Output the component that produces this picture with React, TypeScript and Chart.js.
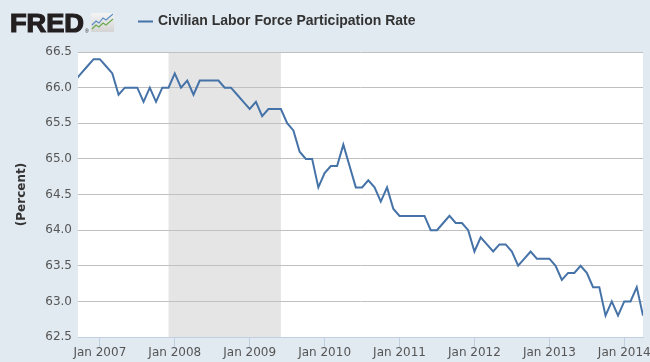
import React, { useEffect, useRef } from "react";
import { Chart, registerables } from "chart.js";

Chart.register(...registerables);

// Monthly values, Sep 2006 .. Apr 2014 (percent)
const firstMonthIndex = -4; // Sep 2006, months relative to Jan 2007
const participationRate = [
  66.1, 66.2, 66.3, 66.4,
  66.4, 66.3, 66.2, 65.9, 66.0, 66.0, 66.0, 65.8, 66.0, 65.8, 66.0, 66.0,
  66.2, 66.0, 66.1, 65.9, 66.1, 66.1, 66.1, 66.1, 66.0, 66.0, 65.9, 65.8,
  65.7, 65.8, 65.6, 65.7, 65.7, 65.7, 65.5, 65.4, 65.1, 65.0, 65.0, 64.6,
  64.8, 64.9, 64.9, 65.2, 64.9, 64.6, 64.6, 64.7, 64.6, 64.4, 64.6, 64.3,
  64.2, 64.2, 64.2, 64.2, 64.2, 64.0, 64.0, 64.1, 64.2, 64.1, 64.1, 64.0,
  63.7, 63.9, 63.8, 63.7, 63.8, 63.8, 63.7, 63.5, 63.6, 63.7, 63.6, 63.6,
  63.6, 63.5, 63.3, 63.4, 63.4, 63.5, 63.4, 63.2, 63.2, 62.8, 63.0, 62.8,
  63.0, 63.0, 63.2, 62.8,
];

const xTickMonths = [0, 12, 24, 36, 48, 60, 72, 84];
const xTickLabels = ["Jan 2007", "Jan 2008", "Jan 2009", "Jan 2010", "Jan 2011", "Jan 2012", "Jan 2013", "Jan 2014"];
const xMin = -3.5;
const xMax = 87;
const yMin = 62.5;
const yMax = 66.5;
const yStep = 0.5;

// Recession: Dec 2007 .. Jun 2009
const recessionStart = 11;
const recessionEnd = 29;

const seriesTitle = "Civilian Labor Force Participation Rate";
const yAxisTitle = "(Percent)";

const BG = "#e1e9f1";
const LINE = "#4572a7";

const backgroundPlugin = {
  id: "fredBackground",
  beforeDraw(chart: any) {
    const { ctx, chartArea, width, height } = chart;
    ctx.save();
    ctx.fillStyle = BG;
    ctx.fillRect(0, 0, width, height);
    ctx.fillStyle = "#ffffff";
    ctx.fillRect(chartArea.left, chartArea.top, chartArea.right - chartArea.left, chartArea.bottom - chartArea.top);
    const xs = chart.scales.x;
    const x0 = xs.getPixelForValue(recessionStart);
    const x1 = xs.getPixelForValue(recessionEnd);
    ctx.fillStyle = "#e5e5e5";
    ctx.fillRect(x0, chartArea.top, x1 - x0, chartArea.bottom - chartArea.top);
    ctx.restore();
  },
  afterDraw(chart: any) {
    const { ctx } = chart;
    ctx.save();
    // FRED logo text
    ctx.font = 'bold 25px "Liberation Sans"';
    ctx.textBaseline = "alphabetic";
    ctx.fillStyle = "#231f20";
    const w = ctx.measureText("FRED").width;
    ctx.save();
    ctx.translate(10, 32);
    ctx.scale(74 / w, 1);
    ctx.fillText("FRED", 0, 0);
    ctx.strokeStyle = "#231f20";
    ctx.lineWidth = 1.2;
    ctx.strokeText("FRED", 0, 0);
    ctx.restore();
    ctx.font = '5px "Liberation Sans"';
    ctx.fillText("®", 85, 33);
    // icon
    const g = ctx.createLinearGradient(0, 13, 0, 32);
    g.addColorStop(0, "#f4f4f4");
    g.addColorStop(1, "#d4d4d4");
    ctx.fillStyle = g;
    ctx.fillRect(91, 13, 23, 19);
    ctx.lineWidth = 1.2;
    ctx.strokeStyle = "#6aa84f";
    ctx.beginPath();
    ctx.moveTo(92, 29); ctx.lineTo(96, 25); ctx.lineTo(99, 27); ctx.lineTo(103, 23); ctx.lineTo(106, 25); ctx.lineTo(113, 19);
    ctx.stroke();
    ctx.strokeStyle = "#5b8cc4";
    ctx.beginPath();
    ctx.moveTo(92, 25); ctx.lineTo(96, 21); ctx.lineTo(99, 23); ctx.lineTo(103, 18); ctx.lineTo(106, 20); ctx.lineTo(113, 14);
    ctx.stroke();
    // legend
    ctx.strokeStyle = LINE;
    ctx.lineWidth = 2;
    ctx.beginPath();
    ctx.moveTo(138, 21.5);
    ctx.lineTo(153, 21.5);
    ctx.stroke();
    ctx.font = 'bold 14px "Liberation Sans"';
    ctx.fillStyle = "#333333";
    ctx.textBaseline = "middle";
    ctx.fillText(seriesTitle, 158, 21);
    ctx.restore();
  },
};

export default function App() {
  const ref = useRef<HTMLCanvasElement | null>(null);

  useEffect(() => {
    document.body.style.margin = "0";
    document.body.style.background = BG;
    const canvas = ref.current;
    if (!canvas) return;
    const points = participationRate.map((v, i) => ({ x: firstMonthIndex + i, y: v }));
    const chart = new Chart(canvas, {
      type: "line",
      data: {
        datasets: [
          {
            data: points,
            borderColor: LINE,
            borderWidth: 2,
            pointRadius: 0,
            tension: 0,
            fill: false,
          },
        ],
      },
      options: {
        animation: false,
        responsive: false,
        devicePixelRatio: 1,
        layout: { autoPadding: false, padding: { top: 52, right: 7, left: 0, bottom: 0 } },
        plugins: { legend: { display: false }, tooltip: { enabled: false }, title: { display: false } },
        scales: {
          x: {
            type: "linear",
            min: xMin,
            max: xMax,
            afterBuildTicks: (scale: any) => {
              scale.ticks = xTickMonths.map((v) => ({ value: v }));
            },
            afterFit: (scale: any) => {
              scale.height = 25;
            },
            ticks: {
              autoSkip: false,
              maxRotation: 0,
              padding: -1,
              color: "#555555",
              font: { family: '"DejaVu Sans"', size: 12 },
              callback: (value: any) => {
                const idx = xTickMonths.indexOf(Number(value));
                return idx >= 0 ? xTickLabels[idx] : "";
              },
            },
            grid: { display: true, drawOnChartArea: false, drawTicks: true, tickLength: 10, color: "#c0d0e0", lineWidth: 1 },
            border: { display: true, color: "#c0d0e0", width: 1 },
          },
          y: {
            min: yMin,
            max: yMax,
            afterFit: (scale: any) => {
              scale.width = 78;
            },
            ticks: {
              stepSize: yStep,
              padding: 6,
              color: "#555555",
              font: { family: '"DejaVu Sans"', size: 12 },
              callback: (value: any) => Number(value).toFixed(1),
            },
            grid: {
              drawTicks: false,
              color: (c: any) => (c.tick && Math.abs(c.tick.value - yMin) < 1e-6 ? "rgba(0,0,0,0)" : "#c0c0c0"),
              lineWidth: 1,
            },
            border: { display: false },
            title: {
              display: true,
              text: yAxisTitle,
              color: "#333333",
              font: { family: '"DejaVu Sans"', size: 12, weight: "bold" },
              padding: { top: 15, bottom: 0 },
            },
          },
        },
      },
      plugins: [backgroundPlugin],
    } as any);
    return () => chart.destroy();
  }, []);

  return (
    <div style={{ position: "fixed", left: 0, top: 0, width: 650, height: 362, background: BG }}>
      <canvas ref={ref} width={650} height={362} style={{ width: 650, height: 362, display: "block" }} />
    </div>
  );
}
